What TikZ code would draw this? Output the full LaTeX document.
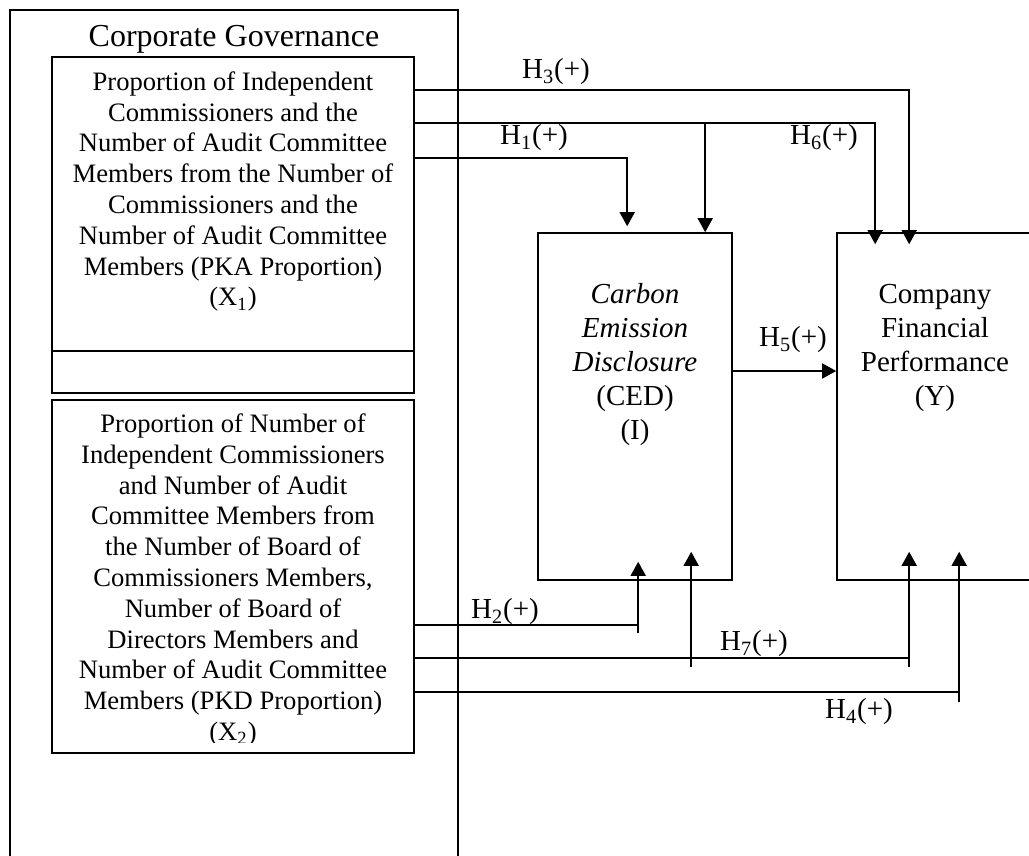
\documentclass[tikz,border=0pt]{standalone}
\usepackage{fontspec}
\setmainfont{Liberation Serif}
\usetikzlibrary{arrows.meta,calc}
\begin{document}
\begin{tikzpicture}[x=0.5pt,y=-0.5pt,
  line width=0.8pt,
  box/.style={draw, line width=0.8pt, inner sep=0pt},
  arr/.style={-{Triangle[length=7pt,width=7.5pt]}},
  lbl/.style={font=\fontsize{14.5}{17}\selectfont, inner sep=0pt},
  btext/.style={align=center, font=\fontsize{13.3}{15.4}\selectfont, inner sep=0pt},
  vtext/.style={align=center, font=\fontsize{14.5}{17}\selectfont, inner sep=0pt}]
\clip (0,0) rectangle (1029,856);
\fill[white] (0,0) rectangle (1029,856);
% boxes
\node[box, minimum width=224pt, minimum height=440pt] (outer) at (234,450) {};
\node[inner sep=0pt, font=\fontsize{16}{19}\selectfont] (title) at (234,39) {Corporate Governance};
\node[box, minimum width=181pt, minimum height=168pt] (x1) at (233,225) {};
\draw (x1.west |- 0,351) -- (x1.east |- 0,351);
\node[btext] (x1t) at (233,191.5) {Proportion of Independent\\Commissioners and the\\Number of Audit Committee\\Members from the Number of\\Commissioners and the\\Number of Audit Committee\\Members (PKA Proportion)\\(X\textsubscript{1})};
\node[box, minimum width=181pt, minimum height=176.5pt] (x2) at (233,576.5) {};
\begin{scope}
\clip (52,400) rectangle (414,742);
\node[btext] (x2t) at (233,580) {Proportion of Number of\\Independent Commissioners\\and Number of Audit\\Committee Members from\\the Number of Board of\\Commissioners Members,\\Number of Board of\\Directors Members and\\Number of Audit Committee\\Members (PKD Proportion)\\(X\textsubscript{2})};
\end{scope}
\node[box, minimum width=97pt, minimum height=173.5pt] (ced) at (635,406.5) {};
\node[vtext] (cedt) at (635,365) {\textit{Carbon}\\\textit{Emission}\\\textit{Disclosure}\\(CED)\\(I)};
\node[box, minimum width=97.5pt, minimum height=173.5pt] (cfp) at (934.5,406.5) {};
\node[vtext] (cfpt) at (935,347.5) {Company\\Financial\\Performance\\(Y)};
% coordinates
\coordinate (h3s) at (x1.east |- 0,90);
\coordinate (h6s) at (x1.east |- 0,123);
\coordinate (h1s) at (x1.east |- 0,158);
\coordinate (h2s) at (x2.east |- 0,625);
\coordinate (h7s) at (x2.east |- 0,658);
\coordinate (h4s) at (x2.east |- 0,692);
\path (cfp.north west) ++(73,12) coordinate (h3e);
\path (cfp.north west) ++(39,12) coordinate (h6e);
\path (ced.north west) ++(168,0) coordinate (b6e);
\path (ced.north west) ++(90,-6) coordinate (h1e);
\path (ced.south west) ++(101,-19) coordinate (h2e);
\path (ced.south west) ++(154,-29) coordinate (b7e);
\path (cfp.south west) ++(73,-29) coordinate (h7e);
\path (cfp.south west) ++(123,-29) coordinate (h4e);
% connectors
\draw[arr] (h3s) -| (h3e);
\draw[arr] (h6s) -| (h6e);
\draw[arr] (b6e |- h6s) -- (b6e);
\draw[arr] (h1s) -| (h1e);
\draw[arr] (ced.east |- 0,371) -- (cfp.west |- 0,371);
\draw (h2s) -- (h2e |- h2s);
\draw[arr] ($(h2e |- h2s)+(0,8)$) -- (h2e);
\draw (h7s) -- (h7e |- h7s);
\draw[arr] ($(h7e |- h7s)+(0,9)$) -- (h7e);
\draw[arr] ($(b7e |- h7s)+(0,9)$) -- (b7e);
\draw (h4s) -- (h4e |- h4s);
\draw[arr] ($(h4e |- h4s)+(0,10)$) -- (h4e);
% labels
\node[lbl] (l3) at (556,72) {H\textsubscript{3}(+)};
\node[lbl] (l1) at (534,138) {H\textsubscript{1}(+)};
\node[lbl] (l6) at (824,138) {H\textsubscript{6}(+)};
\node[lbl] (l5) at (793,340) {H\textsubscript{5}(+)};
\node[lbl] (l2) at (505,612) {H\textsubscript{2}(+)};
\node[lbl] (l7) at (754,644) {H\textsubscript{7}(+)};
\node[lbl] (l4) at (859,712) {H\textsubscript{4}(+)};
\end{tikzpicture}
\end{document}
